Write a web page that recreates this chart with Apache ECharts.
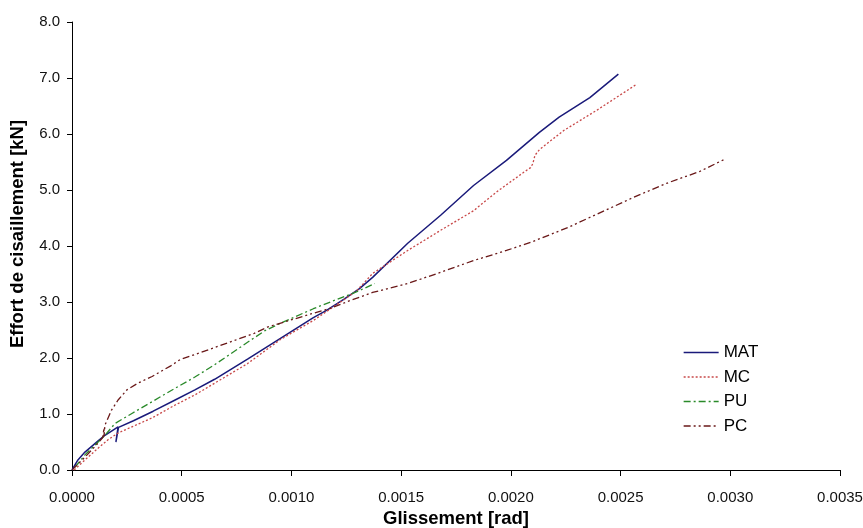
<!DOCTYPE html>
<html>
<head>
<meta charset="utf-8">
<script src="https://cdn.jsdelivr.net/npm/echarts@6/dist/echarts.min.js"></script>
<style>
html,body{margin:0;padding:0;background:#fff;}
#c{width:863px;height:528px;}
</style>
</head>
<body>
<div id="c"></div>
<script>
// Ticks
var xTicks = [0, 0.0005, 0.0010, 0.0015, 0.0020, 0.0025, 0.0030, 0.0035];
var yTicks = [0, 1, 2, 3, 4, 5, 6, 7, 8];

// MAT
var matX = [0, 0.000027, 0.000059, 0.000119, 0.00015, 0.000182, 0.00021, 0.0002, 0.000212, 0.00028, 0.00037, 0.00047, 0.00056, 0.00065, 0.0008, 0.00095, 0.0011, 0.00116, 0.00124, 0.00131, 0.00137, 0.00153, 0.00168, 0.00183, 0.00198, 0.00213, 0.00222, 0.00236, 0.00249];
var matY = [0, 0.18, 0.32, 0.52, 0.62, 0.70, 0.77, 0.50, 0.76, 0.88, 1.05, 1.25, 1.43, 1.62, 1.98, 2.35, 2.72, 2.85, 3.05, 3.24, 3.44, 4.05, 4.55, 5.08, 5.53, 6.03, 6.30, 6.65, 7.07];

// MC
var mcX = [0.00001, 0.000059, 0.000119, 0.000164, 0.00021, 0.000273, 0.000365, 0.00047, 0.00056, 0.00065, 0.0008, 0.00095, 0.0011, 0.00125, 0.0013, 0.00137, 0.00153, 0.00168, 0.00183, 0.00194, 0.00206, 0.00209, 0.0021, 0.00211, 0.00213, 0.00224, 0.00239, 0.00257];
var mcY = [0.0, 0.18, 0.39, 0.54, 0.66, 0.77, 0.93, 1.16, 1.34, 1.55, 1.90, 2.33, 2.67, 3.07, 3.21, 3.51, 3.92, 4.28, 4.63, 4.98, 5.32, 5.40, 5.47, 5.62, 5.72, 6.06, 6.42, 6.88];

// PU
var puX = [0.000014, 0.000059, 0.000119, 0.00015, 0.000196, 0.000273, 0.000365, 0.00047, 0.00056, 0.00065, 0.0008, 0.00088, 0.00095, 0.0011, 0.00119, 0.00129, 0.00138];
var puY = [0.05, 0.27, 0.50, 0.62, 0.83, 1.01, 1.22, 1.46, 1.66, 1.88, 2.28, 2.49, 2.62, 2.88, 3.02, 3.17, 3.33];

// PC
var pcX = [0, 0.000059, 0.000119, 0.00014, 0.000146, 0.000146, 0.00015, 0.00018, 0.00021, 0.00025, 0.0003, 0.000365, 0.00045, 0.000492, 0.00058, 0.00071, 0.00083, 0.00089, 0.00099, 0.0011, 0.00118, 0.00127, 0.00137, 0.00153, 0.00168, 0.00183, 0.00198, 0.0021, 0.00226, 0.00241, 0.00256, 0.00271, 0.00286, 0.00298];
var pcY = [0, 0.23, 0.48, 0.58, 0.75, 0.60, 0.80, 1.07, 1.25, 1.43, 1.55, 1.67, 1.86, 1.97, 2.09, 2.27, 2.44, 2.55, 2.67, 2.80, 2.89, 3.03, 3.17, 3.33, 3.53, 3.74, 3.92, 4.08, 4.33, 4.60, 4.87, 5.12, 5.33, 5.56];

var seriesNames = ['MAT', 'MC', 'PU', 'PC'];

function zip(xs, ys) { return xs.map(function (x, i) { return [x, ys[i]]; }); }

var chart = echarts.init(document.getElementById('c'), null, {renderer: 'canvas'});
var font = 'Arial, "Liberation Sans", sans-serif';

function mk(name, xs, ys, color, type, width) {
  return {
    name: name, type: 'line', data: zip(xs, ys),
    showSymbol: false, symbol: 'none', smooth: false, animation: false,
    lineStyle: {color: color, width: width, type: type},
    itemStyle: {color: color}
  };
}

chart.setOption({
  backgroundColor: '#ffffff',
  animation: false,
  grid: {left: 72, right: 23, top: 22, bottom: 58, containLabel: false, outerBoundsMode: 'none'},
  xAxis: {
    type: 'value', min: xTicks[0], max: xTicks[xTicks.length - 1], interval: 0.0005,
    name: 'Glissement [rad]', nameLocation: 'middle', nameGap: 37,
    nameTextStyle: {fontFamily: font, fontSize: 18.5, fontWeight: 'bold', color: '#000'},
    axisLine: {lineStyle: {color: '#000', width: 1}},
    axisTick: {show: true, inside: false, length: 6, lineStyle: {color: '#000'}},
    axisLabel: {margin: 20, fontFamily: font, fontSize: 15, color: '#111',
      formatter: function (v) { return v.toFixed(4); }},
    splitLine: {show: false}
  },
  yAxis: {
    type: 'value', min: yTicks[0], max: yTicks[yTicks.length - 1], interval: 1,
    axisLine: {show: true, lineStyle: {color: '#000', width: 1}},
    axisTick: {show: true, inside: false, length: 5, lineStyle: {color: '#000'}},
    axisLabel: {margin: 12, fontFamily: font, fontSize: 15, color: '#111',
      formatter: function (v) { return v.toFixed(1); }},
    splitLine: {show: false}
  },
  legend: {
    show: true, orient: 'vertical', left: 678, top: 339, itemWidth: 35, itemHeight: 14, itemGap: 7.5,
    itemStyle: {opacity: 0},
    lineStyle: {width: 1.3},
    textStyle: {fontFamily: font, fontSize: 17, color: '#000'},
    data: seriesNames
  },
  graphic: [{
    type: 'text', x: 18, y: 234, rotation: Math.PI / 2,
    style: {text: 'Effort de cisaillement [kN]', font: 'bold 18.5px Arial, "Liberation Sans", sans-serif',
      fill: '#000', align: 'center', verticalAlign: 'middle'}
  }],
  series: [
    mk(seriesNames[0], matX, matY, '#1a1a7a', 'solid', 1.5),
    mk(seriesNames[1], mcX, mcY, '#c84848', [2, 2], 1.3),
    mk(seriesNames[2], puX, puY, '#2a8a2a', [7, 3, 2, 3], 1.3),
    mk(seriesNames[3], pcX, pcY, '#6a1818', [7, 3, 2, 3, 2, 3], 1.3)
  ]
});
</script>
</body>
</html>
